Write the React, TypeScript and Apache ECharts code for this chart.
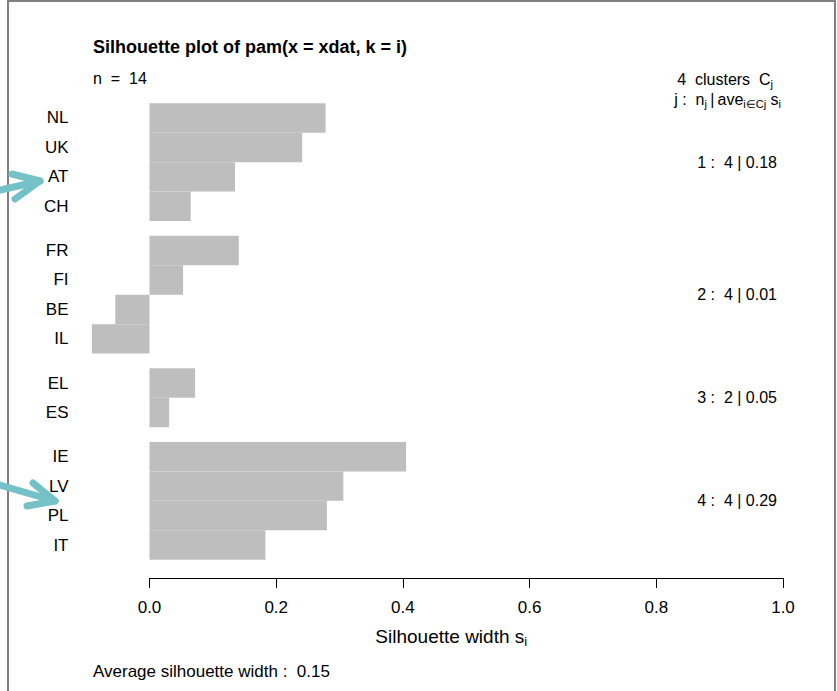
import React, { useEffect, useRef } from "react";
import * as echarts from "echarts";

const countries = ["NL", "UK", "AT", "CH", "FR", "FI", "BE", "IL", "EL", "ES", "IE", "LV", "PL", "IT"];
const clusters = [1, 1, 1, 1, 2, 2, 2, 2, 3, 3, 4, 4, 4, 4];
const silWidths = [0.278, 0.241, 0.135, 0.065, 0.141, 0.053, -0.054, -0.091, 0.072, 0.031, 0.405, 0.306, 0.28, 0.183];
const xTickStep = 0.2;
const titleText = "Silhouette plot of pam(x = xdat, k = i)";

const FONT = "'Liberation Sans', Arial, Helvetica, sans-serif";

// bar positions as R's barplot does: width 1, a 0.5 gap between clusters
const positions: number[] = [];
{
  let cur = 0;
  clusters.forEach((c, i) => {
    if (i > 0 && c !== clusters[i - 1]) cur += 0.5;
    positions.push(cur + 0.5);
    cur += 1;
  });
}
const yLo = 0;
const yHi = positions[positions.length - 1] + 0.5;
const ext = 0.04 * (yHi - yLo);

const clusterIds = Array.from(new Set(clusters));
const clusterStats = clusterIds.map((k) => {
  const idx = clusters.map((c, i) => (c === k ? i : -1)).filter((i) => i >= 0);
  const meanPos = idx.reduce((s, i) => s + positions[i], 0) / idx.length;
  const ave = idx.reduce((s, i) => s + silWidths[i], 0) / idx.length;
  return { k, n: idx.length, meanPos, ave };
});
const overallAve = silWidths.reduce((s, v) => s + v, 0) / silWidths.length;

export default function App() {
  const ref = useRef<HTMLDivElement>(null);
  useEffect(() => {
    if (!ref.current) return;
    const chart = echarts.init(ref.current, null, { renderer: "svg" });
    const nameByPos = new Map<number, string>();
    positions.forEach((p, i) => nameByPos.set(p, countries[i]));
    const clusterByPos = new Map<number, string>();
    clusterStats.forEach((c) =>
      clusterByPos.set(c.meanPos, `${c.k} :  ${c.n} | ${c.ave.toFixed(2)}`)
    );

    const subRich = {
      sub: { fontSize: 11, fontFamily: FONT, color: "#000", padding: [9, 0, 0, 0] },
      base: { fontSize: 16, fontFamily: FONT, color: "#000" },
    };
    const subRichLab = {
      sub: { fontSize: 13, fontFamily: FONT, color: "#000", padding: [10, 0, 0, 0] },
      base: { fontSize: 19, fontFamily: FONT, color: "#000" },
    };

    const yCommon = {
      type: "value" as const,
      min: yLo - ext,
      max: yHi + ext,
      inverse: true,
      axisLine: { show: false },
      axisTick: { show: false },
      splitLine: { show: false },
    };

    chart.setOption({
      animation: false,
      backgroundColor: "#fff",
      grid: { left: 149.5, right: 54, top: 85, bottom: 113, containLabel: false },
      xAxis: {
        type: "value",
        position: "bottom",
        min: 0,
        max: 1,
        interval: xTickStep,
        axisLine: { show: true, onZero: false, lineStyle: { color: "#000", width: 1 } },
        axisTick: { show: true, length: 10, lineStyle: { color: "#000", width: 1 } },
        splitLine: { show: false },
        axisLabel: {
          color: "#000",
          fontSize: 17,
          fontFamily: FONT,
          margin: 21,
          formatter: (v: number) => v.toFixed(1),
        },
        name: "{base|Silhouette width s}{sub|i}",
        nameLocation: "middle",
        nameGap: 47,
        nameTextStyle: { rich: subRichLab, padding: [0, 30, 0, 0] },
      },
      yAxis: [
        {
          ...yCommon,
          position: "left",
          axisLabel: {
            color: "#000",
            fontSize: 17,
            fontFamily: FONT,
            margin: 81,
            lineHeight: 22,
            padding: [6, 0, 0, 0],
            customValues: positions,
            formatter: (v: number) => nameByPos.get(v) ?? "",
          },
        },
        {
          ...yCommon,
          position: "right",
          axisLabel: {
            color: "#000",
            fontSize: 16,
            fontFamily: FONT,
            inside: true,
            margin: 6,
            padding: [3, 0, 0, 0],
            customValues: clusterStats.map((c) => c.meanPos),
            formatter: (v: number) => clusterByPos.get(v) ?? "",
          },
        },
      ],
      series: [
        {
          type: "custom",
          clip: false,
          xAxisIndex: 0,
          yAxisIndex: 0,
          data: silWidths.map((w, i) => [w, positions[i]]),
          encode: { x: 0, y: 1 },
          renderItem: (params: any, api: any) => {
            const v = api.value(0);
            const y = api.value(1);
            const p0 = api.coord([0, y - 0.5]);
            const p1 = api.coord([v, y + 0.5]);
            return {
              type: "rect",
              shape: {
                x: Math.min(p0[0], p1[0]),
                y: Math.min(p0[1], p1[1]),
                width: Math.abs(p1[0] - p0[0]),
                height: Math.abs(p1[1] - p0[1]),
              },
              style: { fill: "#bebebe", stroke: null },
            };
          },
        },
      ],
      graphic: [
        {
          type: "rect",
          z: -1,
          shape: { x: 8, y: 1, width: 827, height: 720 },
          style: { fill: "none", stroke: "#7f7f7f", lineWidth: 2 },
          silent: true,
        },
        {
          type: "text",
          x: 93,
          y: 47,
          style: {
            text: titleText,
            fontSize: 18,
            fontWeight: "bold",
            fontFamily: FONT,
            fill: "#000",
            textVerticalAlign: "middle",
          },
        },
        {
          type: "text",
          x: 93,
          y: 78,
          style: {
            text: `n  =  ${countries.length}`,
            fontSize: 16,
            fontFamily: FONT,
            fill: "#000",
            textVerticalAlign: "middle",
          },
        },
        {
          type: "text",
          x: 773,
          y: 79,
          style: {
            text: `{base|${clusterIds.length}  clusters  C}{sub|j}`,
            rich: subRich,
            textAlign: "right",
            textVerticalAlign: "middle",
          },
        },
        {
          type: "text",
          x: 781,
          y: 99,
          style: {
            text: "{base|j :  n}{sub|j}{base|\u2009|\u2009ave}{sub|i\u2208Cj}{base| s}{sub|i}",
            rich: subRich,
            textAlign: "right",
            textVerticalAlign: "middle",
          },
        },
        {
          type: "text",
          x: 93,
          y: 671,
          style: {
            text: `Average silhouette width :  ${overallAve.toFixed(2)}`,
            fontSize: 17,
            fontFamily: FONT,
            fill: "#000",
            textVerticalAlign: "middle",
          },
        },
        {
          type: "polyline",
          z: 10,
          shape: { points: [[-4, 191], [40, 181]] },
          style: { stroke: "#74c2c7", lineWidth: 7, lineCap: "round", lineJoin: "round", fill: "none" },
        },
        {
          type: "polyline",
          z: 10,
          shape: { points: [[12, 174], [40, 181], [15, 199]] },
          style: { stroke: "#74c2c7", lineWidth: 7, lineCap: "round", lineJoin: "round", fill: "none" },
        },
        {
          type: "polyline",
          z: 10,
          shape: { points: [[-4, 484], [55, 501]] },
          style: { stroke: "#74c2c7", lineWidth: 7, lineCap: "round", lineJoin: "round", fill: "none" },
        },
        {
          type: "polyline",
          z: 10,
          shape: { points: [[33, 483], [55, 501], [27, 506]] },
          style: { stroke: "#74c2c7", lineWidth: 7, lineCap: "round", lineJoin: "round", fill: "none" },
        },
      ],
    });
    return () => chart.dispose();
  }, []);
  return (
    <div
      ref={ref}
      style={{ position: "fixed", left: 0, top: 0, width: 837, height: 691, background: "#fff" }}
    />
  );
}
